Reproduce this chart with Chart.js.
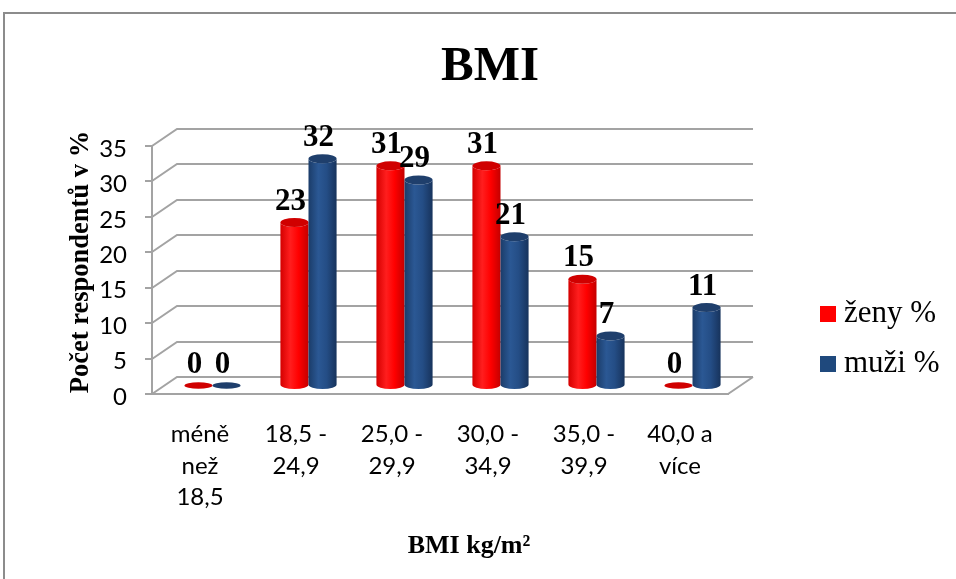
<!DOCTYPE html>
<html>
<head>
<meta charset="utf-8">
<script src="https://cdn.jsdelivr.net/npm/chart.js@4/dist/chart.umd.min.js"></script>
<style>
  html, body { margin: 0; padding: 0; background: #ffffff; }
  #wrap { width: 956px; height: 579px; }
</style>
</head>
<body>
<div id="wrap"><canvas id="bmi" width="956" height="579"></canvas></div>
<script>
// BMI categories (multi-line axis labels) and shares of respondents in %
const categories = [
  ['méně', 'než', '18,5'],
  ['18,5 -', '24,9'],
  ['25,0 -', '29,9'],
  ['30,0 -', '34,9'],
  ['35,0 -', '39,9'],
  ['40,0 a', 'více']
];
const zeny = [0, 23, 31, 31, 15, 0];
const muzi = [0, 32, 29, 21, 7, 11];
const yTicks = [0, 5, 10, 15, 20, 25, 30, 35];

const seriesNames = ['ženy %', 'muži %'];
const chartTitle = 'BMI';
const yTitle = 'Počet respondentů v %';
const xTitle = 'BMI kg/m²';

// depth of the 3-D box (back wall offset from the front plane)
const DEPTH_X = 25, DEPTH_Y = -17;
const GRID = '#a3a3a3';
const SERIF = '"Liberation Serif", "Times New Roman", serif';

const palette = [
  { body: ['#d40000', '#ff1e1e', '#ff0000', '#c40000'], top: '#d00000', key: '#ff0000' },
  { body: ['#1b3c69', '#2b5894', '#244d85', '#17335c'], top: '#1f3f6c', key: '#1f497d' }
];

// Back wall gridlines, floor and the diagonal tick connectors
const boxPlugin = {
  id: 'box3d',
  beforeDraw(chart) {
    const ctx = chart.ctx;
    ctx.save();
    ctx.fillStyle = '#ffffff';
    ctx.fillRect(0, 0, chart.width, chart.height);
    // outer frame (top and left edges)
    ctx.strokeStyle = '#8c8c8c';
    ctx.lineWidth = 2;
    ctx.beginPath();
    ctx.moveTo(4, chart.height);
    ctx.lineTo(4, 13);
    ctx.lineTo(chart.width, 13);
    ctx.stroke();
    ctx.restore();
  },
  beforeDatasetsDraw(chart) {
    const ctx = chart.ctx;
    const y = chart.scales.y;
    const a = chart.chartArea;
    ctx.save();
    ctx.strokeStyle = GRID;
    ctx.lineWidth = 2;
    ctx.beginPath();
    yTicks.forEach(v => {
      const py = Math.round(y.getPixelForValue(v));
      ctx.moveTo(a.left, py);
      ctx.lineTo(a.left + DEPTH_X, py + DEPTH_Y);
      ctx.lineTo(a.right + DEPTH_X, py + DEPTH_Y);
    });
    // right edge of the floor
    const p0 = Math.round(y.getPixelForValue(0));
    ctx.moveTo(a.right, p0);
    ctx.lineTo(a.right + DEPTH_X, p0 + DEPTH_Y);
    ctx.stroke();
    ctx.restore();
  },
  afterDatasetsDraw(chart) {
    const ctx = chart.ctx;
    const dx = DEPTH_X / 2, dy = DEPTH_Y / 2;
    const ry = 4.5;
    const n = chart.data.labels.length;
    for (let i = 0; i < n; i++) {
      chart.data.datasets.forEach((ds, d) => {
        const bar = chart.getDatasetMeta(d).data[i];
        const col = palette[d];
        const cx = bar.x + dx;
        const rx = bar.width / 2;
        const topY = bar.y + dy;
        const baseY = bar.base + dy;
        ctx.save();
        if (baseY - topY > 0.5) {
          const g = ctx.createLinearGradient(cx - rx, 0, cx + rx, 0);
          g.addColorStop(0, col.body[0]);
          g.addColorStop(0.35, col.body[1]);
          g.addColorStop(0.65, col.body[2]);
          g.addColorStop(1, col.body[3]);
          ctx.beginPath();
          ctx.moveTo(cx - rx, topY);
          ctx.lineTo(cx - rx, baseY);
          ctx.ellipse(cx, baseY, rx, ry, 0, Math.PI, 0, true);
          ctx.lineTo(cx + rx, topY);
          ctx.ellipse(cx, topY, rx, ry, 0, 0, Math.PI, false);
          ctx.closePath();
          ctx.fillStyle = g;
          ctx.fill();
        }
        ctx.beginPath();
        ctx.ellipse(cx, topY, rx, baseY - topY > 0.5 ? ry : 3.2, 0, 0, Math.PI * 2);
        ctx.fillStyle = col.top;
        ctx.fill();
        ctx.restore();
      });
    }
    // value labels above each cylinder
    ctx.save();
    ctx.font = 'bold 31px ' + SERIF;
    ctx.fillStyle = '#000000';
    ctx.textAlign = 'center';
    ctx.textBaseline = 'alphabetic';
    chart.data.datasets.forEach((ds, d) => {
      chart.getDatasetMeta(d).data.forEach((bar, i) => {
        ctx.fillText(String(ds.data[i]), bar.x + dx - 4, bar.y + dy - 13);
      });
    });
    ctx.restore();
  },
  afterDraw(chart) {
    const ctx = chart.ctx;
    ctx.save();
    ctx.fillStyle = '#000000';
    // title
    ctx.font = 'bold 49px ' + SERIF;
    ctx.textAlign = 'center';
    ctx.textBaseline = 'alphabetic';
    ctx.fillText(chartTitle, 490, 80);
    // x axis title
    ctx.font = 'bold 26px ' + SERIF;
    ctx.fillText(xTitle, 469, 553);
    // y axis title
    ctx.save();
    ctx.translate(81, 262);
    ctx.rotate(-Math.PI / 2);
    ctx.font = 'bold 26.5px ' + SERIF;
    ctx.textBaseline = 'middle';
    ctx.fillText(yTitle, 0, 0);
    ctx.restore();
    // legend
    ctx.font = '31px ' + SERIF;
    ctx.textAlign = 'left';
    chart.data.datasets.forEach((ds, d) => {
      const top = 306 + d * 50;
      ctx.fillStyle = palette[d].key;
      ctx.fillRect(820, top, 16, 16);
      ctx.fillStyle = '#000000';
      ctx.fillText(ds.label, 844, top + 16);
    });
    ctx.restore();
  }
};

new Chart(document.getElementById('bmi'), {
  type: 'bar',
  data: {
    labels: categories,
    datasets: [
      { label: seriesNames[0], data: zeny, backgroundColor: 'rgba(0,0,0,0)' },
      { label: seriesNames[1], data: muzi, backgroundColor: 'rgba(0,0,0,0)' }
    ]
  },
  options: {
    responsive: false,
    animation: false,
    devicePixelRatio: 1,
    layout: { padding: { left: 0, top: 146, right: 228, bottom: 0 } },
    datasets: { bar: { categoryPercentage: 0.585, barPercentage: 1.0 } },
    plugins: { legend: { display: false }, title: { display: false }, tooltip: { enabled: false } },
    scales: {
      x: {
        grid: { display: true, drawOnChartArea: false, drawTicks: false },
        border: { display: true, color: GRID, width: 2 },
        ticks: {
          color: '#000000',
          font: { family: 'Lato', size: 24, lineHeight: 1.3 },
          padding: 25,
          maxRotation: 0,
          autoSkip: false
        },
        afterFit(scale) { scale.height = 579 - 394; }
      },
      y: {
        min: 0,
        max: 35,
        grid: { display: true, drawOnChartArea: false, drawTicks: true, tickLength: 7, color: GRID, lineWidth: 2 },
        border: { display: true, color: GRID, width: 2 },
        afterBuildTicks(scale) { scale.ticks = yTicks.map(v => ({ value: v })); },
        ticks: {
          color: '#000000',
          font: { family: 'Lato', size: 24 },
          padding: 18,
          labelOffset: 3
        },
        afterFit(scale) { scale.width = 152; }
      }
    }
  },
  plugins: [boxPlugin]
});
</script>
</body>
</html>
